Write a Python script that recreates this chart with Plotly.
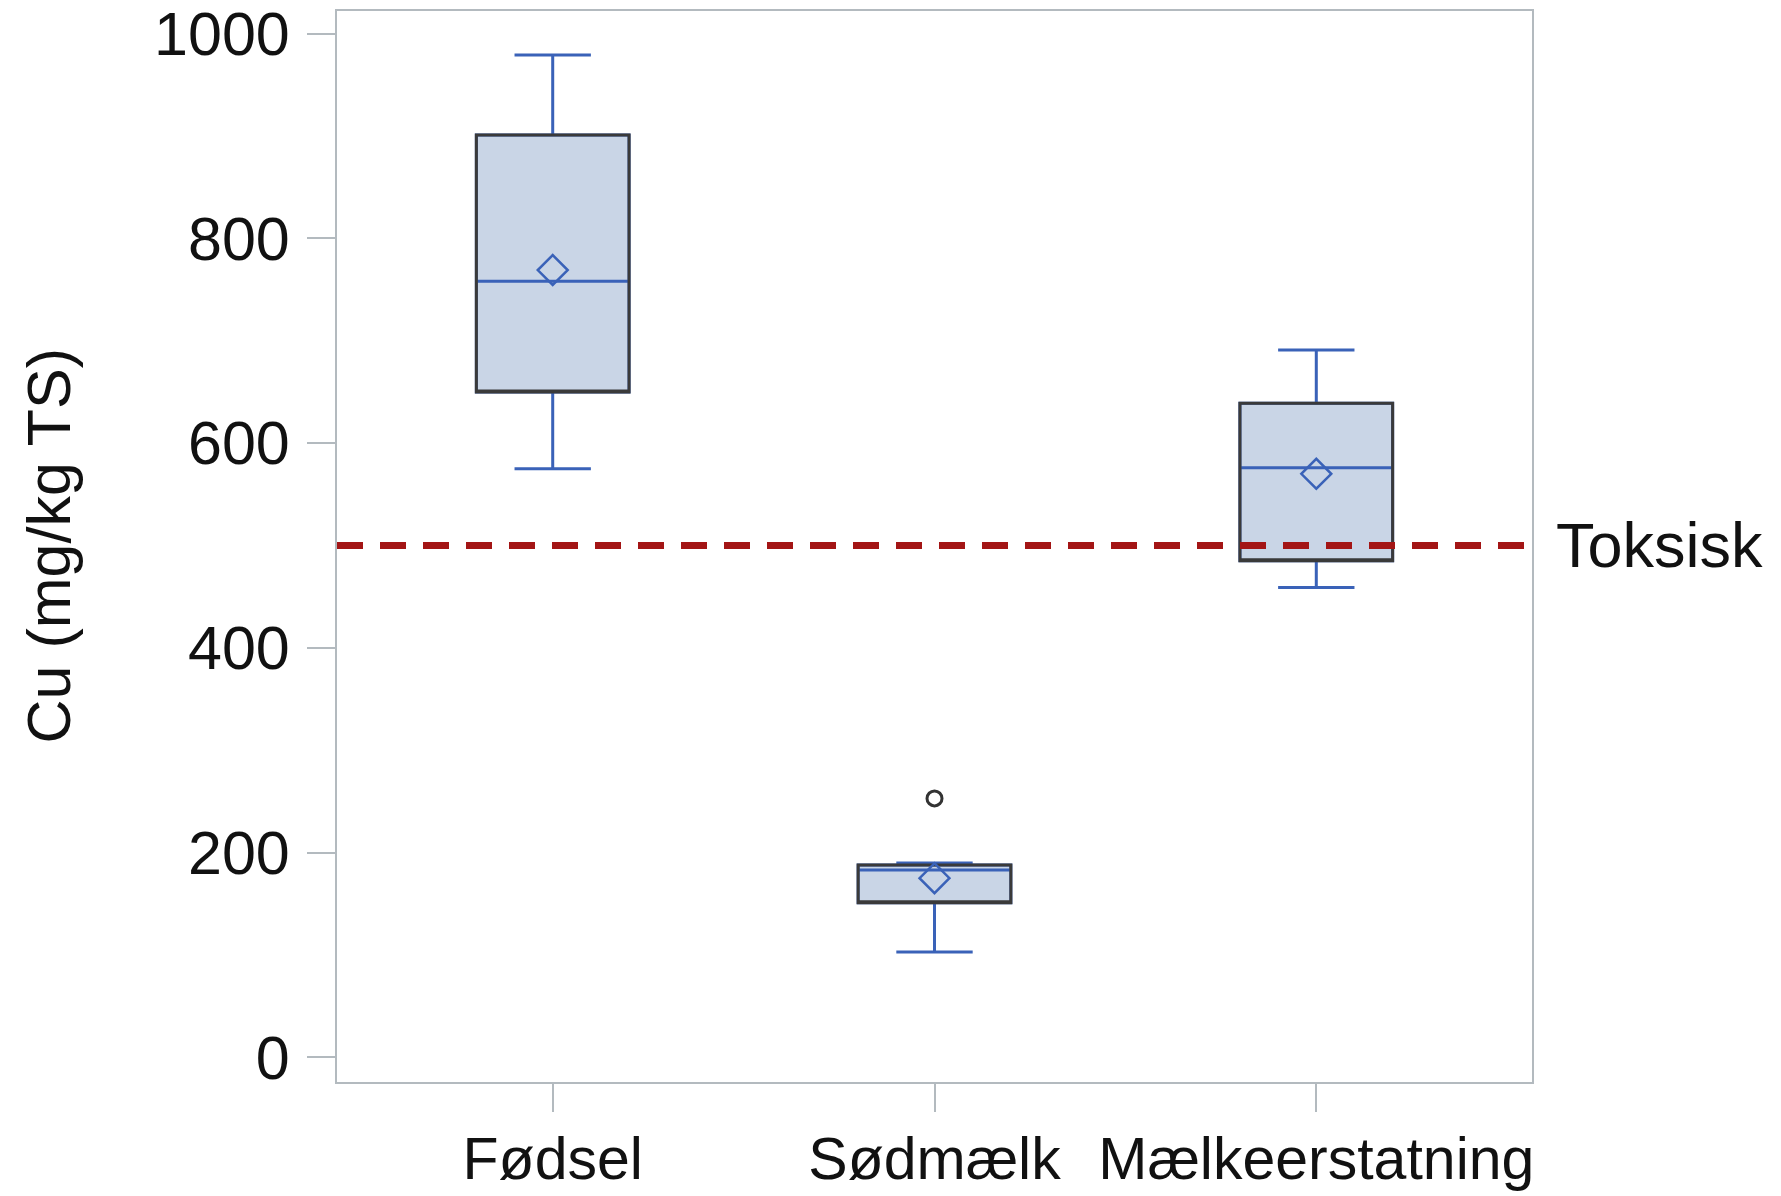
import plotly.graph_objects as go

categories = ["Fødsel", "Sødmælk", "Mælkeerstatning"]
lower_whisker = [575, 103, 459]
q1 = [650, 151, 485]
median = [758, 183, 576]
q3 = [901, 188, 639]
upper_whisker = [979, 190, 691]
mean = [769, 175, 570]
outlier_cat = ["Sødmælk"]
outlier_val = [253]
toxic_level = 500
toxic_label = "Toksisk"
y_ticks = [0, 200, 400, 600, 800, 1000]
y_title = "Cu (mg/kg TS)"

BLUE = "#3A62B8"
FILL = "#C9D5E6"
FONT = "Liberation Sans, Arial, sans-serif"
FS = 61

fig = go.Figure()
fig.add_trace(go.Box(
    x=categories, q1=q1, median=median, q3=q3,
    lowerfence=lower_whisker, upperfence=upper_whisker,
    width=0.4, whiskerwidth=0.5, fillcolor=FILL,
    line=dict(color=BLUE, width=3), boxpoints=False, showlegend=False,
    hoverinfo="skip",
))
fig.add_trace(go.Box(
    x=categories, q1=q1, median=q1, q3=q3,
    lowerfence=q1, upperfence=q3,
    width=0.4, whiskerwidth=0, fillcolor="rgba(0,0,0,0)",
    line=dict(color="#3a3a3a", width=3), boxpoints=False, showlegend=False,
    hoverinfo="skip",
))
fig.add_trace(go.Scatter(
    x=categories, y=mean, mode="markers",
    marker=dict(symbol="diamond-open", size=23, color=BLUE, line=dict(width=2.5, color=BLUE)),
    showlegend=False, hoverinfo="skip",
))
fig.add_trace(go.Scatter(
    x=outlier_cat, y=outlier_val, mode="markers",
    marker=dict(symbol="circle-open", size=15, color="#333333", line=dict(width=3, color="#333333")),
    showlegend=False, hoverinfo="skip",
))

fig.add_hline(y=toxic_level, line=dict(color="#A31515", width=7, dash="26px,17px"), layer="above")
fig.add_annotation(x=1, xref="paper", y=toxic_level, yref="y", text=toxic_label,
                   showarrow=False, xanchor="left", yanchor="middle", xshift=22,
                   font=dict(family=FONT, size=FS + 2, color="#111111"))
fig.add_annotation(x=0, xref="paper", y=0.5, yref="paper", text=y_title, textangle=-90,
                   showarrow=False, xanchor="center", yanchor="middle", xshift=-289,
                   font=dict(family=FONT, size=FS, color="#111111"))

# the page body adds an 8px offset; figure size and margins compensate for it
fig.update_layout(
    width=1773, height=1188,
    margin=dict(l=329, r=249, t=3, b=114),
    plot_bgcolor="white", paper_bgcolor="white",
    boxmode="overlay",
    font=dict(family=FONT, size=FS, color="#111111"),
)
fig.update_xaxes(
    type="category", categoryorder="array", categoryarray=categories,
    range=[-0.565, 2.565], automargin=False, ticklabeloverflow="allow",
    showline=True, linecolor="#B3BABF", linewidth=2, mirror=True,
    ticks="outside", ticklen=28, tickcolor="#B3BABF", tickwidth=2,
    showgrid=False, zeroline=False, ticklabelstandoff=-4,
    tickfont=dict(family=FONT, size=FS - 2, color="#111111"),
)
fig.update_yaxes(
    range=[-24, 1022], tickvals=y_ticks, automargin=False, ticklabeloverflow="allow",
    showline=True, linecolor="#B3BABF", linewidth=2, mirror=True,
    ticks="outside", ticklen=28, tickcolor="#B3BABF", tickwidth=2,
    showgrid=False, zeroline=False, ticklabelstandoff=5,
    tickfont=dict(family=FONT, size=FS, color="#111111"),
)

fig.write_html("out.html")
